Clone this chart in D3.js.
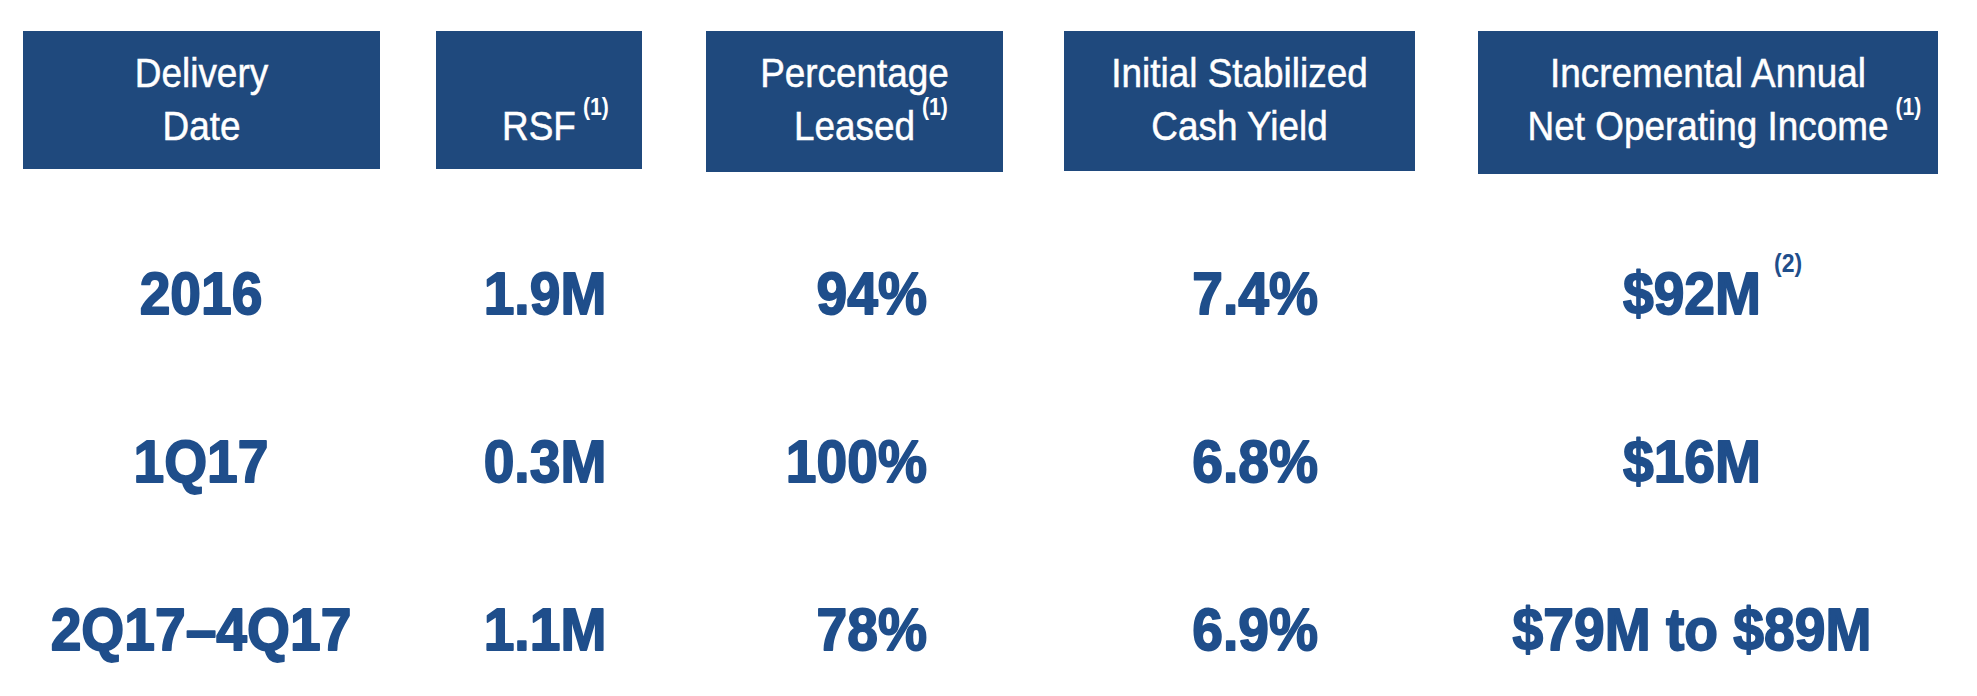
<!DOCTYPE html>
<html>
<head>
<meta charset="utf-8">
<script src="https://cdn.jsdelivr.net/npm/d3@7"></script>
<style>
  html, body { margin: 0; padding: 0; background: #ffffff; }
  svg { display: block; }
</style>
</head>
<body>
<svg id="chart" width="1977" height="696"></svg>
<script>
// ---- data ----
const headerLine1 = ["Delivery", "", "Percentage", "Initial Stabilized", "Incremental Annual"];
const headerLine2 = ["Date", "RSF", "Leased", "Cash Yield", "Net Operating Income"];
const headerNotes = ["", "(1)", "(1)", "", "(1)"];
const deliveryDates = ["2016", "1Q17", "2Q17\u20134Q17"];
const rsf = ["1.9M", "0.3M", "1.1M"];
const pctLeased = ["94%", "100%", "78%"];
const cashYield = ["7.4%", "6.8%", "6.9%"];
const noi = ["$92M", "$16M", "$79M to $89M"];
const noiNotes = ["(2)", "", ""];

// ---- layout ----
const svg = d3.select("#chart");
const boxFill = "#1f497d";
const textBlue = "#1f4e8b";

const boxes = [
  {x0: 23, x1: 380, y1: 169},
  {x0: 436, x1: 642, y1: 169},
  {x0: 706, x1: 1003, y1: 172},
  {x0: 1064, x1: 1415, y1: 171},
  {x0: 1478, x1: 1938, y1: 174}
];
const boxTop = 31;

const col = d3.scaleOrdinal().domain(d3.range(5)).range(boxes);

const hdrFont = "'Liberation Sans', Arial, sans-serif";
const hdrSize = 41, hdrScale = 0.9;
const bodySize = 60, bodyScale = 0.92;

// header boxes
svg.selectAll("rect.hdr").data(d3.range(5)).join("rect")
  .attr("class", "hdr")
  .attr("x", i => col(i).x0)
  .attr("y", boxTop)
  .attr("width", i => col(i).x1 - col(i).x0)
  .attr("height", i => col(i).y1 - boxTop)
  .attr("fill", boxFill);

function scaledText(g, str, cx, y, size, sx, weight, fill, anchor) {
  return g.append("text")
    .attr("font-family", hdrFont)
    .attr("font-size", size)
    .attr("font-weight", weight)
    .attr("fill", fill)
    .attr("text-anchor", anchor)
    .attr("transform", `translate(${cx},${y}) scale(${sx},1)`)
    .text(str);
}

const hdrG = svg.append("g");
const line1Y = 87, line2Y = 139.5;
d3.range(5).forEach(i => {
  const b = col(i);
  const cx = (b.x0 + b.x1) / 2;
  if (headerLine1[i]) scaledText(hdrG, headerLine1[i], cx, line1Y, hdrSize, hdrScale, "normal", "#ffffff", "middle")
      .attr("stroke", "#ffffff").attr("stroke-width", 0.5);
  const t2 = scaledText(hdrG, headerLine2[i], cx, line2Y, hdrSize, hdrScale, "normal", "#ffffff", "middle")
      .attr("stroke", "#ffffff").attr("stroke-width", 0.5);
  if (headerNotes[i]) {
    const w = t2.node().getComputedTextLength() * hdrScale;
    scaledText(hdrG, headerNotes[i], cx + w / 2 + 7, 115, 23, 0.92, "bold", "#ffffff", "start");
  }
});

// body rows
const rowY = d3.scalePoint().domain(d3.range(deliveryDates.length)).range([314, 650]);
const columns = [
  {vals: deliveryDates, x: 201, anchor: "middle"},
  {vals: rsf, x: 545, anchor: "middle"},
  {vals: pctLeased, x: 927, anchor: "end"},
  {vals: cashYield, x: 1318, anchor: "end"},
  {vals: noi, x: 1692, anchor: "middle"}
];
const bodyG = svg.append("g");
columns.forEach((c, ci) => {
  c.vals.forEach((v, ri) => {
    const t = scaledText(bodyG, v, c.x, rowY(ri), bodySize, bodyScale, "bold", textBlue, c.anchor)
      .attr("stroke", textBlue).attr("stroke-width", 1.8).attr("stroke-linejoin", "round");
    if (ci === 4 && noiNotes[ri]) {
      const w = t.node().getComputedTextLength() * bodyScale;
      scaledText(bodyG, noiNotes[ri], c.x + w / 2 + 13, rowY(ri) - 42, 25, 0.92, "bold", textBlue, "start");
    }
  });
});
</script>
</body>
</html>
